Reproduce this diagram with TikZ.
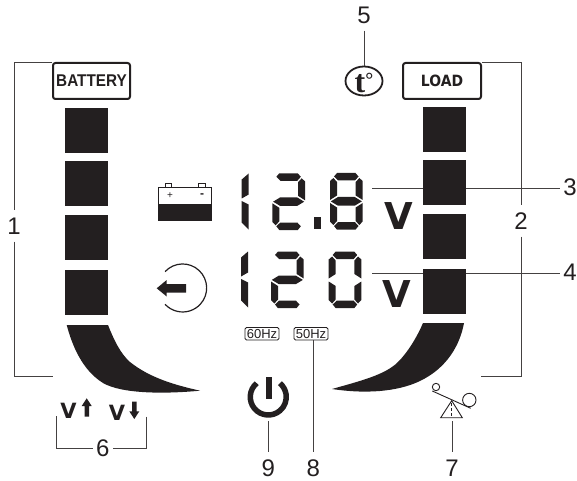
\documentclass[tikz,border=0pt]{standalone}
\usetikzlibrary{shapes.geometric}
\usepackage{fontspec}
\setmainfont{Liberation Sans}
\newfontfamily\narrowfont[FakeStretch=0.9]{Liberation Sans}
\newfontfamily\heavyfont{DejaVu Sans}
\newfontfamily\loadfont[FakeStretch=0.9]{DejaVu Sans}
\newfontfamily\serifbold{Liberation Serif}
\newcommand{\fs}[1]{\fontsize{#1bp}{#1bp}\selectfont}
\definecolor{lcdblack}{HTML}{231F20}
\newcommand{\sega}{\fill[lcd] (4,3.5) -- (7,0) -- (25.5,0) -- (28.5,3.5) -- (25,7.5) -- (8,7.5) -- cycle;}
\newcommand{\segb}{\fill[lcd] (29.3,5) -- (32.7,8) -- (32.7,27) -- (25.7,22.5) -- (25.7,9) -- cycle;}
\newcommand{\segc}{\fill[lcd] (25.7,34.5) -- (32.7,30) -- (32.7,48.5) -- (29.3,52) -- (25.7,48) -- cycle;}
\newcommand{\segd}{\fill[lcd] (4,53) -- (8,49.2) -- (25,49.2) -- (28.5,53) -- (25.5,56.7) -- (7,56.7) -- cycle;}
\newcommand{\sege}{\fill[lcd] (0,30) -- (7,34.5) -- (7,48) -- (3.4,52) -- (0,48.5) -- cycle;}
\newcommand{\segf}{\fill[lcd] (3.4,5) -- (7,9) -- (7,22.5) -- (0,27) -- (0,8) -- cycle;}
\newcommand{\segg}{\fill[lcd] (0.8,28.4) -- (8,24) -- (24.7,24) -- (31.9,28.4) -- (24.7,32.7) -- (8,32.7) -- cycle;}
\newcommand{\segp}{\fill[lcd] (7,0) -- (7,21) -- (0,25) -- (0,6) -- cycle;}
\newcommand{\segq}{\fill[lcd] (0,27.5) -- (7,31) -- (7,56) -- (0,49) -- cycle;}
\newcommand{\lcddigit}[3]{\begin{scope}[shift={(#1,#2)}]\foreach \s in {#3}{\csname seg\s\endcsname}\end{scope}}
\tikzset{
  lcd/.style={fill=lcdblack,draw=none},
  leader/.style={draw=lcdblack!85,line width=0.9bp},
  numlabel/.style={font=\fs{24},text=lcdblack,inner xsep=3bp,inner ysep=7bp,text height=17bp,text depth=0pt},
  tagbox/.style={draw=lcdblack,rounded corners=2.5bp,line width=2bp,text=lcdblack,inner sep=0pt,minimum width=77bp,minimum height=36bp},
  hzbox/.style={draw=lcdblack,rounded corners=1.5bp,line width=0.8bp,text=lcdblack,font=\fs{13},inner sep=0pt,minimum width=34bp,minimum height=12.5bp,text height=9bp,text depth=0pt},
  unitv/.style={font=\fs{37}\heavyfont\bfseries,text=lcdblack,inner sep=0pt},
  smallv/.style={font=\fs{21}\heavyfont\bfseries,text=lcdblack,inner sep=0pt}
}
\begin{document}
\begin{tikzpicture}[x=1bp,y=-1bp]
\useasboundingbox (0,0) rectangle (577,481);
\node[tagbox,font=\fs{17}\narrowfont\bfseries] (battery) at (91.5,81) {BATTERY};
\node[tagbox,font=\fs{15.5}\loadfont\bfseries,minimum width=78bp] (load) at (442,81) {LOAD};
\node[draw=lcdblack,ellipse,line width=1.8bp,inner sep=0pt,minimum width=37bp,minimum height=29bp,font=\fs{32}\serifbold\bfseries,text=lcdblack] (temp) at (364,81) {\smash{\raisebox{-11.5bp}{t\raisebox{6bp}{\fs{20}°}}}};
\node[hzbox] (hz60) at (262,333.7) {60Hz};
\node[hzbox] (hz50) at (311,333.7) {50Hz};
\node[unitv] (volt1) at (398.5,216) {V};
\node[unitv] (volt2) at (397,294) {V};
\node[smallv] (vup) at (68.5,410.5) {V};
\node[smallv] (vdown) at (117,413) {V};
\node[numlabel] (num1) at (14,226) {1};
\node[numlabel] (num2) at (521,221) {2};
\node[numlabel] (num3) at (570,187) {3};
\node[numlabel] (num4) at (570,272) {4};
\node[numlabel] (num5) at (364,15) {5};
\node[numlabel] (num6) at (102.7,448) {6};
\node[numlabel] (num7) at (452,467.5) {7};
\node[numlabel] (num8) at (313.3,467.5) {8};
\node[numlabel] (num9) at (268.3,467.5) {9};
\coordinate (batend) at (53,376.7);
\coordinate (loadend) at (481,376.7);
\coordinate (lead3) at (372,188);
\coordinate (lead4) at (372,273);
\coordinate (vupend) at (56.7,416);
\coordinate (vdownend) at (146,416.7);
\coordinate (poweredge) at (268.3,420.7);
\coordinate (tiltedge) at (452,421);
% brackets and leaders
\path[leader] (battery.north west) -| (num1);
\path[leader] (num1) |- (batend);
\path[leader] (load.north east) -| (num2);
\path[leader] (num2) |- (loadend);
\path[leader] (lead3) -- (num3.west |- lead3);
\path[leader] (lead4) -- (num4.west |- lead4);
\path[leader] (num5) -- (temp);
\path[leader] (vupend) |- (num6);
\path[leader] (vdownend) |- (num6);
\path[leader] (num7) -- (tiltedge);
\path[leader] (num8) -- (hz50.south -| num8);
\path[leader] (num9) -- (poweredge);
% bars
\foreach \y in {108,161,215,270} \fill[lcd] (65,\y) rectangle +(43,45);
\foreach \y in {107,160,214,269} \fill[lcd] (423,\y) rectangle +(43,45);
\fill[lcd] (66.7,325) .. controls (72,345) and (82,370) .. (103,383) .. controls (122,394) and (165,394) .. (200,390.7) .. controls (175,385) and (150,378) .. (130,362) .. controls (120,353) and (114,340) .. (108,325) -- cycle;
\fill[lcd] (464,323) .. controls (460,345) and (447,368) .. (420,381) .. controls (397,392) and (365,394) .. (332,389) .. controls (360,381) and (385,375) .. (398,362) .. controls (408,352) and (417,337) .. (423,323) -- cycle;
% digits
\lcddigit{241.7}{173.5}{p,q}
\lcddigit{272.3}{173.3}{a,b,g,e,d}
\fill[lcd] (314,217.3) rectangle (321,229.3);
\lcddigit{330}{173}{a,b,c,d,e,f,g}
\lcddigit{241}{251.5}{p,q}
\lcddigit{271}{251.5}{a,b,g,e,d}
\lcddigit{328.7}{251.5}{a,b,c,d,e,f}
% battery
\draw[lcdblack,line width=0.8bp,fill=white] (158.7,187.7) rectangle (211.3,220.3);
\fill[lcd] (158.7,204) rectangle (211.3,220.3);
\draw[lcdblack,line width=0.7bp] (165.3,183.3) rectangle (171.7,187.7);
\draw[lcdblack,line width=0.7bp] (198,183.3) rectangle (205,187.7);
\node[font=\fs{10},text=lcdblack,inner sep=0pt] (plus) at (170,195.3) {+};
\node[font=\fs{12}\bfseries,text=lcdblack,inner sep=0pt] (minus) at (202,195.5) {-};
% input
\draw[lcdblack,line width=1.2bp] (165.1,271.6) arc[start angle=137,delta angle=-274,radius=24bp];
\fill[lcd] (156.7,288.3) -- (166.7,280) -- (166.7,284) -- (186,284) -- (186,292.7) -- (166.7,292.7) -- (166.7,296.5) -- cycle;
% power
\draw[lcdblack,line width=5.5bp] (256.7,383.2) arc[start angle=130,delta angle=280,radius=18bp];
\fill[lcd] (265.7,376.7) rectangle (271.7,399.3);
% v arrows
\fill[lcd] (86.7,398.3) -- (91.7,406) -- (89,406) -- (89,416.7) -- (84.5,416.7) -- (84.5,406) -- (81.7,406) -- cycle;
\fill[lcd] (134.3,419) -- (139.3,411.3) -- (136.6,411.3) -- (136.6,401.7) -- (132.1,401.7) -- (132.1,411.3) -- (129.3,411.3) -- cycle;
% tilt
\draw[lcdblack,line width=0.9bp] (436,387) circle[radius=3.7bp];
\draw[lcdblack,line width=0.9bp] (469.3,400) circle[radius=6.7bp];
\draw[lcdblack,line width=0.9bp] (432.3,391) -- (470.7,408.3);
\draw[lcdblack,line width=0.9bp] (451.7,400.7) -- (440.7,417.7) -- (462.3,417.7) -- cycle;
\draw[lcdblack,line width=0.5bp,densely dashed] (451.7,403) -- (451.7,417.7);
\end{tikzpicture}
\end{document}
